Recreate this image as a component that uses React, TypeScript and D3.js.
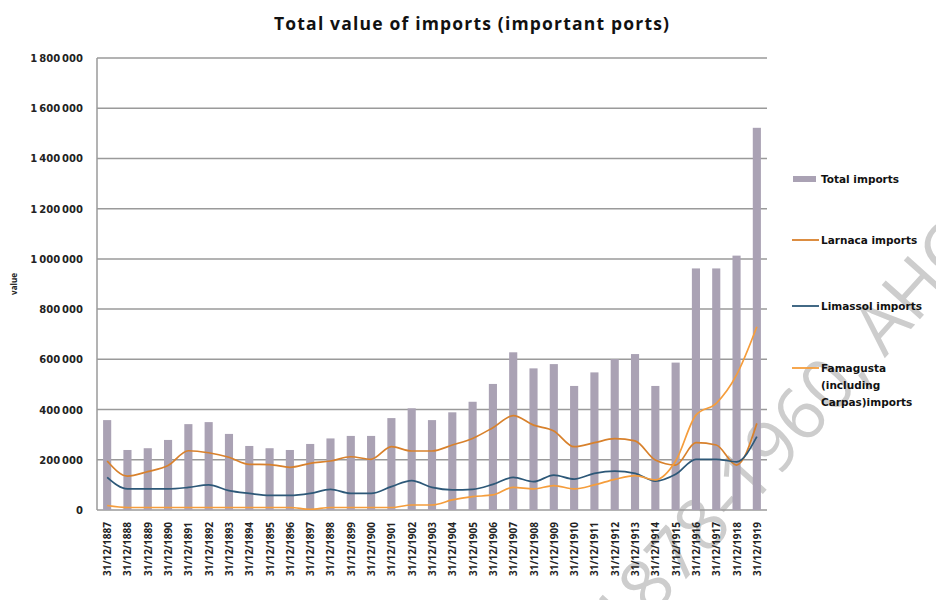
import React from "react";
import * as d3 from "d3";

const years = [
  "1887","1888","1889","1890","1891","1892","1893","1894","1895","1896","1897",
  "1898","1899","1900","1901","1902","1903","1904","1905","1906","1907","1908",
  "1909","1910","1911","1912","1913","1914","1915","1916","1917","1918","1919",
];
const categories = years.map((y) => `31/12/${y}`);

const totalImports = [
  358000, 239000, 246000, 279000, 342000, 350000, 303000, 255000, 246000, 239000, 263000,
  285000, 295000, 295000, 366000, 405000, 358000, 389000, 431000, 502000, 628000, 564000,
  581000, 494000, 548000, 601000, 621000, 494000, 587000, 962000, 962000, 1013000, 1522000,
];
const larnacaImports = [
  195000, 135000, 153000, 177000, 236000, 228000, 210000, 182000, 181000, 170000, 186000,
  195000, 212000, 202000, 252000, 235000, 235000, 259000, 285000, 328000, 376000, 338000,
  315000, 252000, 268000, 284000, 275000, 199000, 179000, 268000, 259000, 179000, 345000,
];
const limassolImports = [
  130000, 84000, 84000, 84000, 90000, 100000, 77000, 66000, 58000, 58000, 66000,
  82000, 66000, 66000, 93000, 117000, 90000, 80000, 82000, 102000, 130000, 113000,
  139000, 123000, 146000, 155000, 146000, 115000, 142000, 202000, 202000, 192000, 292000,
];
const famagustaImports = [
  18000, 10000, 10000, 10000, 10000, 10000, 10000, 10000, 10000, 10000, 3000,
  10000, 10000, 10000, 10000, 20000, 20000, 40000, 53000, 60000, 90000, 84000,
  97000, 84000, 100000, 122000, 137000, 120000, 195000, 378000, 425000, 538000, 730000,
];
const yTicks = [0, 200000, 400000, 600000, 800000, 1000000, 1200000, 1400000, 1600000, 1800000];

const title = "Total value of imports (important ports)";
const yAxisTitle = "value";
const watermark = "1878-1960, AHC";

const legendItems = [
  { kind: "bar", lines: ["Total imports"], color: "#aaa2b4" },
  { kind: "line", lines: ["Larnaca imports"], color: "#d8812c" },
  { kind: "line", lines: ["Limassol imports"], color: "#2d5878" },
  { kind: "line", lines: ["Famagusta", "(including", "Carpas)imports"], color: "#f59d3c" },
];

const W = 936;
const H = 600;
const FONT = "'Open Sans', 'DejaVu Sans', sans-serif";
const BOLD_FONT = "'DejaVu Sans', 'Open Sans', sans-serif";

export default function App() {
  const left = 97;
  const right = 767;
  const top = 58;
  const bottom = 510;

  const x = d3.scaleBand<string>().domain(categories).range([left, right]).paddingInner(0.6).paddingOuter(0.3);
  const y = d3.scaleLinear().domain([0, 1800000]).range([bottom, top]);
  const cx = (c: string) => (x(c) as number) + x.bandwidth() / 2;

  const fmtLocale = d3.formatLocale({ decimal: ".", thousands: "\u2009", grouping: [3], currency: ["", ""] });
  const fmt = fmtLocale.format(",d");

  const line = d3
    .line<number>()
    .x((_, i) => cx(categories[i]))
    .y((d) => y(d))
    .curve(d3.curveMonotoneX);

  const series = [
    { values: larnacaImports, color: legendItems[1].color },
    { values: limassolImports, color: legendItems[2].color },
    { values: famagustaImports, color: legendItems[3].color },
  ];

  const legendY = [179, 240, 306, 368];

  return (
    <svg
      width={W}
      height={H}
      viewBox={`0 0 ${W} ${H}`}
      style={{ position: "absolute", left: 0, top: 0, display: "block", background: "#fff" }}
      fontFamily={FONT}
    >
      <rect x={0} y={0} width={W} height={H} fill="#fff" />

      {/* watermark (behind the chart) */}
      <text
        transform="translate(624,648) rotate(-48)"
        fontSize={72}
        fill="#cdcdcd"
        fontFamily={FONT}
      >
        {watermark}
      </text>

      <text
        x={274}
        y={30}
        fontSize={17.5}
        fontWeight={700}
        fill="#111"
        textLength={395}
        lengthAdjust="spacing"
      >
        {title}
      </text>

      {/* gridlines */}
      {yTicks.map((t) => (
        <line key={t} x1={left} x2={right} y1={y(t)} y2={y(t)} stroke="#9a9a9a" strokeWidth={1.5} />
      ))}
      <line x1={left} x2={left} y1={top} y2={bottom} stroke="#9a9a9a" strokeWidth={1.5} />

      {/* y tick labels */}
      {yTicks.map((t) => (
        <text
          key={t}
          x={83}
          y={y(t) + 4}
          textAnchor="end"
          fontSize={10}
          fontWeight={700}
          fill="#222"
          fontFamily={BOLD_FONT}
        >
          {fmt(t)}
        </text>
      ))}
      <text
        transform={`translate(17,${(top + bottom) / 2}) rotate(-90)`}
        textAnchor="middle"
        fontSize={8}
        fontWeight={700}
        fill="#222"
      >
        {yAxisTitle}
      </text>

      {/* bars */}
      {categories.map((c, i) => (
        <rect
          key={c}
          x={x(c)}
          y={y(totalImports[i])}
          width={x.bandwidth()}
          height={bottom - y(totalImports[i])}
          fill={legendItems[0].color}
        />
      ))}

      {/* lines */}
      {series.map((s, k) => (
        <path key={k} d={line(s.values) || ""} fill="none" stroke={s.color} strokeWidth={1.7} />
      ))}

      {/* x labels */}
      {categories.map((c) => (
        <text
          key={c}
          transform={`translate(${cx(c) + 4},${bottom + 12}) rotate(-90)`}
          textAnchor="end"
          fontSize={10}
          fontWeight={700}
          fill="#222"
        >
          {c}
        </text>
      ))}

      {/* legend */}
      {legendItems.map((it, k) => (
        <g key={k}>
          {it.kind === "bar" ? (
            <rect x={793} y={legendY[k] - 3} width={23} height={6} fill={it.color} />
          ) : (
            <line x1={792} x2={819} y1={legendY[k]} y2={legendY[k]} stroke={it.color} strokeWidth={1.8} />
          )}
          {it.lines.map((ln, j) => (
            <text
              key={j}
              x={821}
              y={legendY[k] + 4 + j * 17}
              fontSize={10.5}
              fontWeight={700}
              fill="#111"
              fontFamily={BOLD_FONT}
            >
              {ln}
            </text>
          ))}
        </g>
      ))}
    </svg>
  );
}
